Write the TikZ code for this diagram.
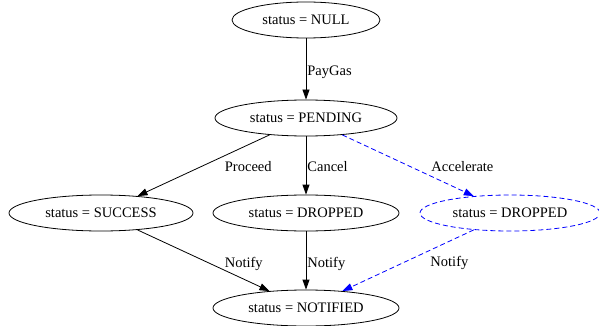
\documentclass[tikz,border=0pt]{standalone}
\usepackage{fontspec}
\setmainfont{Liberation Serif}
\usetikzlibrary{arrows.meta,shapes.geometric}

\begin{document}
\begin{tikzpicture}[x=1pt,y=-1pt,
state/.style={draw, ellipse, line width=0.8pt, inner sep=0pt, minimum height=36pt, font=\fontsize{14.5}{16}\selectfont},
trans/.style={draw, line width=0.8pt, -{Triangle[length=10pt,width=7pt]}},
alt/.style={blue, dash pattern=on 5pt off 3pt},
lbl/.style={anchor=west, inner sep=1pt, text=black, font=\fontsize{14.5}{16}\selectfont}]
\useasboundingbox (0,0) rectangle (599,326);
\node [state, minimum width=148pt] (null) at (306,20) {status = NULL};
\node [state, minimum width=182pt] (pending) at (306,118) {status = PENDING};
\node [state, minimum width=184pt] (success) at (101,213) {status = SUCCESS};
\node [state, minimum width=186pt] (dropped) at (306,213) {status = DROPPED};
\node [state, alt, text=black, minimum width=180pt] (dropped2) at (510,213) {status = DROPPED};
\node [state, minimum width=186pt] (notified) at (306,308) {status = NOTIFIED};

\draw [trans] (null) -- node[lbl, pos=0.5, yshift=-3pt] {PayGas} (pending);
\draw [trans] (pending) -- node[lbl, pos=0.5, xshift=20pt, yshift=-1pt] {Proceed} (success);
\draw [trans] (pending) -- node[lbl, pos=0.5, yshift=-1pt] {Cancel} (dropped);
\draw [trans, alt] (pending) -- node[lbl, pos=0.5, xshift=22pt, yshift=-1pt] {Accelerate} (dropped2);
\draw [trans] (success) -- node[lbl, pos=0.5, xshift=20pt, yshift=-3pt] {Notify} (notified);
\draw [trans] (dropped) -- node[lbl, pos=0.5, yshift=-3pt] {Notify} (notified);
\draw [trans, alt] (dropped2) -- node[lbl, pos=0.5, xshift=21pt, yshift=-3pt] {Notify} (notified);
\end{tikzpicture}
\end{document}
